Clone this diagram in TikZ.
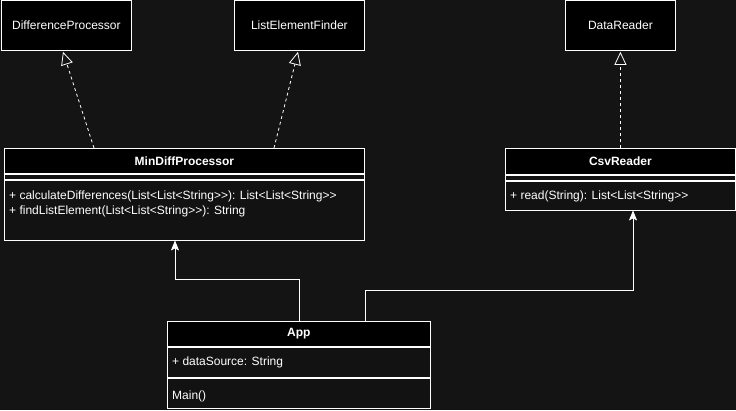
\documentclass[tikz,border=0pt]{standalone}
\usepackage{fontspec}
\setmainfont{Liberation Sans}[Ligatures=TeXOff]
\usetikzlibrary{arrows.meta, positioning}
\definecolor{canvas}{HTML}{141414}
\definecolor{body}{HTML}{121212}

\begin{document}
\begin{tikzpicture}[
  x=1pt, y=-1pt,
  font=\fontsize{12}{15}\selectfont,
  every node/.style={text=white},
  box/.style={draw=white, line width=0.8pt, anchor=north west, inner sep=0pt},
  iface/.style={box, fill=black, minimum height=50pt},
  head/.style={box, fill=black, font=\fontsize{12}{15}\selectfont\bfseries},
  part/.style={box, fill=body},
  member/.style={anchor=north west, inner sep=0pt, align=left},
  realize/.style={draw=white, line width=0.8pt, dash pattern=on 3pt off 3pt,
                  -{Triangle[open, length=13pt, width=12pt, fill=canvas]}},
  assoc/.style={draw=white, line width=0.8pt, -{Stealth[length=10pt, width=8pt, inset=2pt]}}
]
\fill[canvas] (0,0) rectangle (736,410);
\useasboundingbox (0,0) rectangle (736,410);

% interfaces
\node[iface, minimum width=130pt] (diff) at (1,0) {DifferenceProcessor};
\node[iface, minimum width=130pt] (finder) at (234,0) {ListElementFinder};
\node[iface, minimum width=110pt] (reader) at (565,0) {DataReader};

% MinDiffProcessor
\node[head, minimum width=360pt, minimum height=25pt] (mdp-head) at (4,148) {MinDiffProcessor};
\node[part, minimum width=360pt, minimum height=5pt] (mdp-attr) at (mdp-head.south west) {};
\node[part, minimum width=360pt, minimum height=60pt] (mdp-ops) at (mdp-attr.south west) {};
\node[member, below right=11pt and 5pt of mdp-ops.north west]
  {+ calculateDifferences(List<List<String>>): List<List<String>>\\
   + findListElement(List<List<String>>): String};

% CsvReader
\node[head, minimum width=230pt, minimum height=26pt] (csv-head) at (505,148) {CsvReader};
\node[part, minimum width=230pt, minimum height=5pt] (csv-attr) at (csv-head.south west) {};
\node[part, minimum width=230pt, minimum height=29pt] (csv-ops) at (csv-attr.south west) {};
\node[member, below right=10pt and 5pt of csv-ops.north west] {+ read(String): List<List<String>>};

% App
\node[head, minimum width=263pt, minimum height=25pt] (app-head) at (167,321) {App};
\node[part, minimum width=263pt, minimum height=30pt] (app-attr) at (app-head.south west) {};
\node[part, minimum width=263pt, minimum height=30pt] (app-ops) at (app-attr.south west) {};
\node[member, below right=10pt and 5pt of app-attr.north west] {+ dataSource: String};
\node[member, below right=13pt and 5pt of app-ops.north west] {Main()};

% connectors
\draw[realize] ([xshift=90pt]mdp-head.north west) -- ([xshift=62pt, yshift=-1pt]diff.south west);
\draw[realize] ([xshift=270pt]mdp-head.north west) -- ([xshift=64pt, yshift=-1pt]finder.south west);
\draw[realize] (csv-head.north) -- ([yshift=-1pt]reader.south);
\draw[assoc] (app-head.north) -- ++(0,-42) -| ([xshift=171pt]mdp-ops.south west);
\draw[assoc] ([xshift=198pt]app-head.north west) -- ++(0,-31) -| ([xshift=128pt]csv-ops.south west);
\end{tikzpicture}
\end{document}
